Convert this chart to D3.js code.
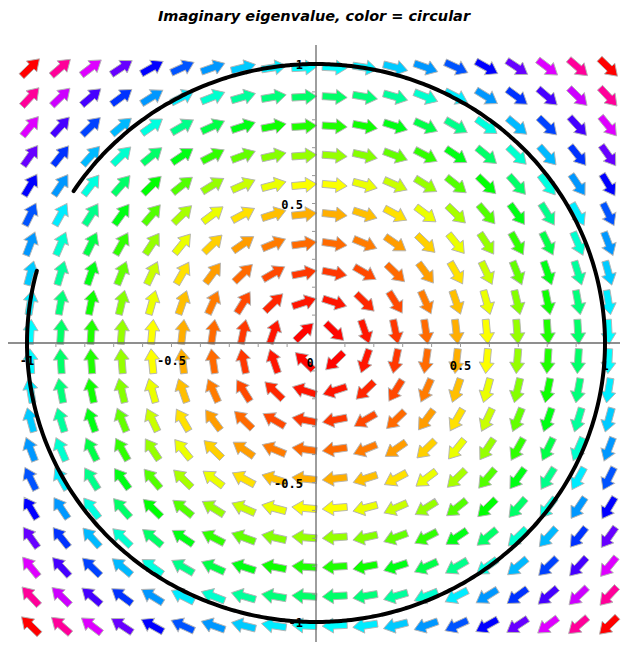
<!DOCTYPE html>
<html>
<head>
<meta charset="utf-8">
<script src="https://cdn.jsdelivr.net/npm/d3@7/dist/d3.min.js"></script>
<style>
  html, body { margin: 0; padding: 0; background: #fff; }
  svg { display: block; }
</style>
</head>
<body>
<svg id="chart" width="624" height="645"></svg>
<script>
// Sample grid for the direction field (20 x 20 points over [-1, 1])
const gridX = [-1, -0.8947, -0.7895, -0.6842, -0.5789, -0.4737, -0.3684, -0.2632, -0.1579, -0.0526,
               0.0526, 0.1579, 0.2632, 0.3684, 0.4737, 0.5789, 0.6842, 0.7895, 0.8947, 1];
const gridY = [-1, -0.8947, -0.7895, -0.6842, -0.5789, -0.4737, -0.3684, -0.2632, -0.1579, -0.0526,
               0.0526, 0.1579, 0.2632, 0.3684, 0.4737, 0.5789, 0.6842, 0.7895, 0.8947, 1];

// Linear system x' = A x with purely imaginary eigenvalues (a centre)
const matrixA = [[0, 1], [-1, 0]];

// Axis tick labels
const xTickValues = [-1, -0.5, 0.5, 1];
const xTickLabels = ["-1", "-0.5", "0.5", "1"];
const yTickValues = [1, 0.5, -0.5, -1];
const yTickLabels = ["1", "0.5", "-0.5", "-1"];
const minorTicks = [-1, -0.9, -0.8, -0.7, -0.6, -0.5, -0.4, -0.3, -0.2, -0.1,
                    0.1, 0.2, 0.3, 0.4, 0.5, 0.6, 0.7, 0.8, 0.9, 1];

// Closed orbit of radius 1, traced clockwise from the start angle to the end angle (degrees)
const orbitRadius = 1;
const orbitStartDeg = 165;
const orbitEndDeg = 507;

const titleText = "Imaginary eigenvalue, color = circular";

const svg = d3.select("#chart");
svg.append("rect").attr("width", 624).attr("height", 645).attr("fill", "#fff");

const sx = d3.scaleLinear().domain([-1, 1]).range([27, 605]);
const sy = d3.scaleLinear().domain([-1, 1]).range([622, 64]);

// Colour wraps round the hue circle with squared speed
const hueScale = d3.scaleLinear().domain([0, 2]).range([0, 360]);
const colorFor = s2 => d3.hsl(hueScale(s2) % 360, 1, 0.5).formatHex();

// Field vectors
const field = [];
gridY.forEach(y => {
  gridX.forEach(x => {
    const vx = matrixA[0][0] * x + matrixA[0][1] * y;
    const vy = matrixA[1][0] * x + matrixA[1][1] * y;
    field.push({x, y, vx, vy});
  });
});

const kx = sx(1) - sx(0), ky = sy(0) - sy(1);
const glyphOffset = 3.5;
// Block arrow pointing along +x, centred on the origin
const arrowShape = [[-12.5, -3.5], [1.5, -3.5], [1.5, -7.5], [12.5, 0], [1.5, 7.5], [1.5, 3.5], [-12.5, 3.5]];
const arrowPath = "M" + arrowShape.map(p => p.join(",")).join("L") + "Z";

svg.append("g").selectAll("path")
  .data(field)
  .join("path")
  .attr("d", arrowPath)
  .attr("transform", d => {
    const ang = Math.atan2(-d.vy * ky, d.vx * kx) * 180 / Math.PI;
    return `translate(${sx(d.x) + glyphOffset},${sy(d.y) + glyphOffset}) rotate(${ang})`;
  })
  .attr("fill", d => colorFor(d.vx * d.vx + d.vy * d.vy))
  .attr("stroke", "#b4b4b4")
  .attr("stroke-width", 0.9)
  .attr("stroke-linejoin", "miter");

// Axes through the origin
const axes = svg.append("g").attr("stroke", "#6a6a6a").attr("stroke-width", 1.3);
axes.append("line").attr("x1", sx(0)).attr("x2", sx(0)).attr("y1", 45).attr("y2", 642);
axes.append("line").attr("x1", 8).attr("x2", 620).attr("y1", sy(0)).attr("y2", sy(0));

const minor = svg.append("g").attr("stroke", "#999").attr("stroke-width", 1);
minor.selectAll(".mx").data(minorTicks).join("line")
  .attr("x1", d => sx(d)).attr("x2", d => sx(d))
  .attr("y1", sy(0)).attr("y2", sy(0) + 4);
minor.selectAll(".my").data(minorTicks).join("line")
  .attr("x1", sx(0) - 4).attr("x2", sx(0))
  .attr("y1", d => sy(d)).attr("y2", d => sy(d));

// Orbit
const thetas = d3.range(orbitStartDeg, orbitEndDeg + 0.5, 1);
const orbit = d3.line()
  .x(t => sx(orbitRadius * Math.cos(t * Math.PI / 180)))
  .y(t => sy(orbitRadius * Math.sin(t * Math.PI / 180)))
  .curve(d3.curveCardinal);
svg.append("path")
  .attr("d", orbit(thetas))
  .attr("fill", "none")
  .attr("stroke", "#000")
  .attr("stroke-width", 4)
  .attr("stroke-linecap", "round");

// Tick labels
const labelFont = "'DejaVu Sans Mono', monospace";
const lab = svg.append("g")
  .attr("font-family", labelFont)
  .attr("font-size", 12)
  .attr("font-weight", "bold")
  .attr("fill", "#000");

lab.selectAll(".xl").data(xTickValues).join("text")
  .attr("x", d => sx(d))
  .attr("y", (d, i) => sy(0) + (d > 0 ? 27 : 22))
  .attr("text-anchor", "middle")
  .text((d, i) => xTickLabels[i]);

lab.selectAll(".yl").data(yTickValues).join("text")
  .attr("x", sx(0) - 13)
  .attr("y", d => sy(d) + 5)
  .attr("text-anchor", "end")
  .text((d, i) => yTickLabels[i]);

lab.append("text")
  .attr("x", sx(0) - 6)
  .attr("y", sy(0) + 24)
  .attr("text-anchor", "middle")
  .text("0");

// Title
svg.append("text")
  .attr("x", 314)
  .attr("y", 21)
  .attr("text-anchor", "middle")
  .attr("font-family", "'DejaVu Sans', sans-serif")
  .attr("font-style", "italic")
  .attr("font-weight", "bold")
  .attr("font-size", 14.5)
  .text(titleText);
</script>
</body>
</html>
